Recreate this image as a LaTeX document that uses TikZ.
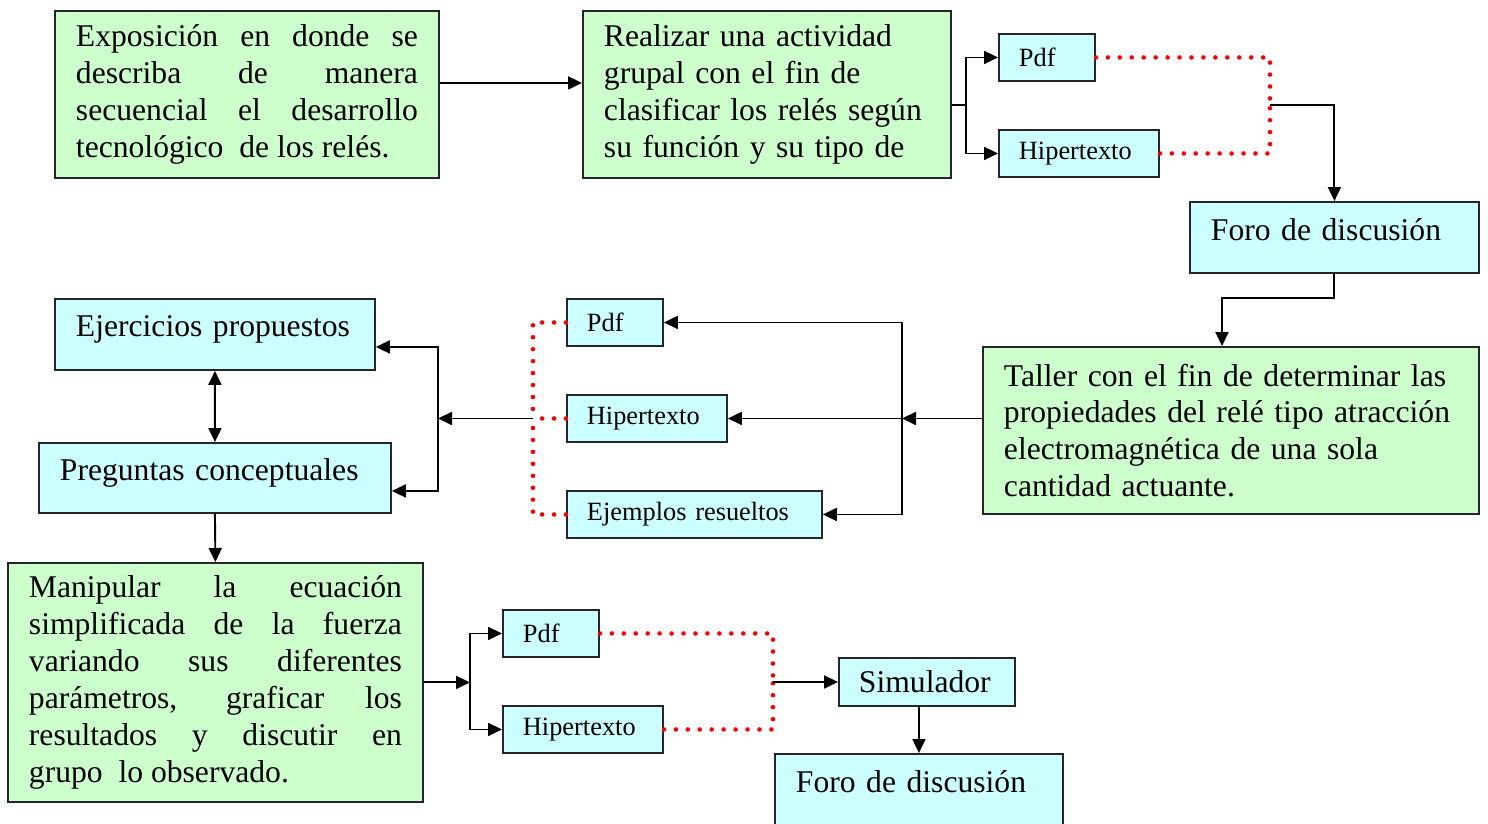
\documentclass[tikz,border=0pt]{standalone}
\usepackage{fontspec}
\setmainfont{Liberation Serif}
\usetikzlibrary{arrows.meta}
\definecolor{CV}{RGB}{204,255,204}
\definecolor{CC}{RGB}{204,255,255}
\definecolor{CR}{RGB}{255,0,0}

\begin{document}
\begin{tikzpicture}[x=0.02cm, y=-0.02cm,
    caja/.style={draw=black!85, line width=1.1pt, anchor=north west, inner ysep=0pt},
    verde/.style={caja, fill=CV, inner xsep=0.42cm, align=justify, font=\fontsize{18}{21}\selectfont},
    cian/.style={caja, fill=CC, inner xsep=0.42cm, align=left, font=\fontsize{18}{21}\selectfont},
    boton/.style={caja, fill=CC, inner xsep=0.4cm, align=left, minimum height=0.94cm, font=\fontsize{15}{18}\selectfont},
    arr/.style={line width=1.1pt, -{Triangle[length=0.28cm,width=0.26cm]}},
    dobl/.style={line width=1.1pt, {Triangle[length=0.28cm,width=0.26cm]}-{Triangle[length=0.28cm,width=0.26cm]}},
    puntos/.style={CR, line width=2.6pt, line cap=round, dash pattern=on 0pt off 6.8pt}]
    \fill[white] (0,0) rectangle (1488,823);
    \useasboundingbox (0,0) rectangle (1488,823);

    \node[verde, text width=6.84cm, minimum height=3.34cm] (A) at (54,10)
        {Exposición en donde se\linebreak describa de manera\linebreak secuencial el desarrollo\linebreak tecnológico\ \ de los relés.};
    \node[verde, align=left, text width=6.52cm, minimum height=3.34cm] (B) at (582,10)
        {Realizar una actividad\\ grupal con el fin de\\ \mbox{clasificar los relés\ según}\\ su función y su tipo de};
    \node[boton, text width=1.12cm] (P1) at (998,33) {Pdf};
    \node[boton, text width=2.40cm] (H1) at (998,129) {Hipertexto};
    \node[cian, text width=4.94cm, minimum height=1.42cm, text depth=0.32cm] (F1) at (1189,201) {Foro de discusión};
    \node[verde, align=left, text width=9.08cm, minimum height=3.34cm] (C) at (982,346)
        {Taller con el fin de determinar las\\ propiedades del relé tipo atracción\\ electromagnética de una sola\\ cantidad actuante.};
    \node[boton, text width=1.12cm] (P2) at (566,298) {Pdf};
    \node[boton, text width=2.40cm] (H2) at (566,394) {Hipertexto};
    \node[boton, text width=4.30cm] (ER) at (566,490) {Ejemplos resueltos};
    \node[cian, text width=5.56cm, minimum height=1.42cm, text depth=0.32cm] (EP) at (54,298) {Ejercicios propuestos};
    \node[cian, text width=6.20cm, minimum height=1.40cm, text depth=0.32cm] (PC) at (38,442) {Preguntas conceptuales};
    \node[verde, text width=7.46cm, minimum height=4.78cm] (D) at (7,562)
        {Manipular la ecuación\linebreak simplificada de la fuerza\linebreak variando sus diferentes\linebreak parámetros, graficar los\linebreak resultados y discutir en\linebreak grupo\ \ lo observado.};
    \node[boton, text width=1.12cm] (P3) at (502,609) {Pdf};
    \node[boton, text width=2.40cm] (H3) at (502,705) {Hipertexto};
    \node[cian, inner xsep=0.4cm, text width=2.72cm, minimum height=0.96cm] (S) at (838,657) {Simulador};
    \node[cian, text width=4.92cm, minimum height=1.42cm, text depth=0.32cm] (F2) at (774,753) {Foro de discusión};

    \coordinate (jB) at (966,105);
    \coordinate (rA) at (1270,105);
    \coordinate (jF) at (1222,298);
    \coordinate (jC) at (902,0 |- H2.east);
    \coordinate (rB) at (533,0 |- H2.west);
    \coordinate (jL) at (438,0 |- H2.west);
    \coordinate (jD) at (470,0 |- D.east);
    \coordinate (rC) at (773,0 |- S.west);

    \draw[arr] ([yshift=0.23cm]A.east) -- ([yshift=0.23cm]A.east -| B.west);
    \draw[line width=1.1pt] (B.east |- jB) -- (jB);
    \draw[arr] (jB) |- (P1.west);
    \draw[arr] (jB) |- (H1.west);
    \draw[puntos] (P1.east) -| (rA);
    \draw[puntos] (H1.east) -| (rA);
    \draw[arr] (rA) -| (F1.north);
    \draw[arr] (F1.south) |- (jF) -- (jF |- C.north);

    \draw[arr] (jC -| C.west) -- (jC);
    \draw[arr] (jC) |- (P2.east);
    \draw[arr] (jC) -- (H2.east);
    \draw[arr] (jC) |- (ER.east);
    \draw[puntos] (P2.west) -| (rB);
    \draw[puntos] (ER.west) -| (rB);
    \draw[puntos] (H2.west) -- (rB);
    \draw[arr] (rB) -- (jL);
    \draw[arr] (jL) |- ([yshift=-0.25cm]EP.east);
    \draw[arr] (jL) |- ([yshift=-0.26cm]PC.east);
    \draw[dobl] (EP.south) -- (PC.north);
    \draw[arr] (PC.south) -- (D.north);

    \draw[arr] (D.east) -- (jD);
    \draw[arr] (jD) |- (P3.west);
    \draw[arr] (jD) |- (H3.west);
    \draw[puntos] (P3.east) -| (rC);
    \draw[puntos] (H3.east) -| (rC);
    \draw[arr] (rC) -- (S.west);
    \draw[arr] (F2.north |- S.south) -- (F2.north);
\end{tikzpicture}
\end{document}
